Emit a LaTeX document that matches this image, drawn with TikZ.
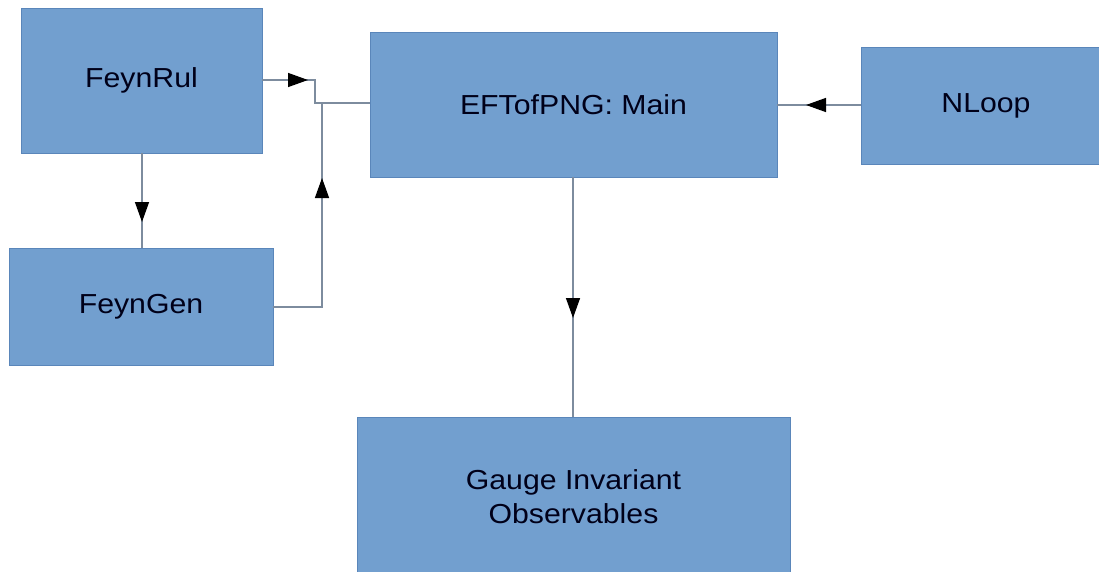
\documentclass[tikz,border=0pt]{standalone}
\usepackage{fontspec}
\setmainfont{Liberation Sans}[FakeStretch=1.1]
\usetikzlibrary{arrows.meta}
\definecolor{boxfill}{HTML}{729FCF}
\definecolor{boxline}{HTML}{5A86BA}
\definecolor{connline}{HTML}{7D8C9E}
\tikzset{
  blk/.style={draw=boxline, line width=0.8pt, fill=boxfill, inner sep=0pt, align=center,
    font=\fontsize{27.5}{34}\selectfont, text=black!90!blue},
  conn/.style={draw=connline, line width=1.4pt},
  tip/.style={-{Triangle[length=20pt,width=14pt,fill=black]}, draw=black, line width=1.4pt},
}
\begin{document}
\begin{tikzpicture}[x=1pt,y=-1pt]
\useasboundingbox (0,0) rectangle (1099,572);
\fill[white] (0,0) rectangle (1099,572);
% boxes
\node[blk, minimum width=241pt, minimum height=145pt] (rul) at (141.5,80.5) {FeynRul};
\node[blk, minimum width=264pt, minimum height=117pt] (gen) at (141,306.5) {FeynGen};
\node[blk, minimum width=407pt, minimum height=145pt] (main) at (573.5,104.5) {EFTofPNG: Main};
\node[blk, minimum width=250pt, minimum height=117pt] (nloop) at (986,105.5) {NLoop};
\node[blk, minimum width=433pt, minimum height=160pt] (gauge) at (573.5,497) {Gauge Invariant\\Observables};
% junction coordinates
\coordinate (r1) at (308,80);
\coordinate (r2) at (315,80);
\coordinate (r3) at (315,103);
\coordinate (g1) at (322,307);
\coordinate (g2) at (322,178);
\coordinate (g3) at (322,103);
\coordinate (d1) at (142,222);
\coordinate (n1) at (806,105);
\coordinate (m1) at (573,318);
% FeynRul -> Main
\draw[conn] (rul.east |- r2) -- (r2) -- (r3) -- (main.west |- r3);
\draw[tip] ([xshift=-14pt]r1) -- (r1);
% FeynGen -> Main
\draw[conn] (gen.east |- g1) -- (g1) -- (g3);
\draw[tip] ([yshift=-14pt]g2) -- (g2);
% FeynRul -> FeynGen
\draw[conn] (rul.south -| d1) -- (gen.north -| d1);
\draw[tip] ([yshift=14pt]d1) -- (d1);
% NLoop -> Main
\draw[conn] (nloop.west |- n1) -- (main.east |- n1);
\draw[tip] ([xshift=14pt]n1) -- (n1);
% Main -> Gauge
\draw[conn] (main.south -| m1) -- (gauge.north -| m1);
\draw[tip] ([yshift=14pt]m1) -- (m1);
\end{tikzpicture}
\end{document}
